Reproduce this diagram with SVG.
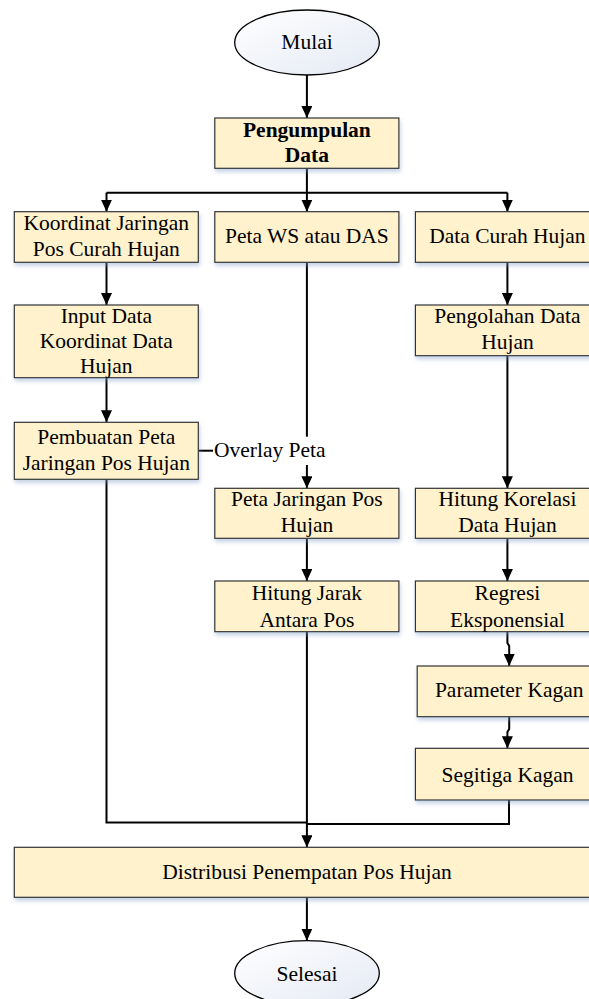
<svg xmlns="http://www.w3.org/2000/svg" width="589" height="999" viewBox="0 0 589 999">
<style>
.box{fill:#FFF2CC;stroke:#333333;stroke-width:1.2;filter:url(#sh)}
.term{fill:url(#eg);stroke:#000;stroke-width:1.3}
.t{font-family:"Liberation Serif","Times New Roman",serif;font-size:21.5px;fill:#000;text-anchor:middle}
.b{font-weight:bold}
.c{fill:none;stroke:#000;stroke-width:2}
.a{marker-end:url(#ah)}
</style>
<defs>
<marker id="ah" viewBox="0 0 12 12" markerWidth="12" markerHeight="11" refX="12" refY="6" orient="auto" markerUnits="userSpaceOnUse" preserveAspectRatio="none">
<path d="M0,0 L12,6 L0,12 z" fill="#000"/>
</marker>
<filter id="sh" x="-10%" y="-20%" width="120%" height="150%">
<feDropShadow dx="1" dy="3" stdDeviation="2" flood-color="#7f9cc8" flood-opacity="0.45"/>
</filter>
<linearGradient id="eg" x1="0" y1="0" x2="1" y2="1">
<stop offset="0" stop-color="#ffffff"/>
<stop offset="1" stop-color="#e4e9f4"/>
</linearGradient>
</defs>
<rect width="589" height="999" fill="#fff"/>
<g id="connectors">
<path class="c a" d="M306.9 75 V118"/>
<path class="c a" d="M306.9 168.3 V211.7"/>
<path class="c" d="M106.5 192.7 H507.4"/>
<path class="c a" d="M106.5 192.7 V211.7"/>
<path class="c a" d="M507.4 192.7 V211.7"/>
<path class="c a" d="M106.5 262.3 V305"/>
<path class="c a" d="M106.5 377.7 V422.3"/>
<path class="c" d="M198.3 450.7 H213"/>
<path class="c" d="M306.9 262.3 V436.7"/>
<path class="c a" d="M306.9 465 V488.3"/>
<path class="c a" d="M507.4 262.3 V305"/>
<path class="c a" d="M507.4 355.7 V488.3"/>
<path class="c a" d="M306.9 538.3 V581"/>
<path class="c a" d="M507.4 538.3 V581"/>
<path class="c a" d="M507.4 631.7 V643 L509.2 646 V666"/>
<path class="c a" d="M509.2 716.7 V729 L507.4 732 V748.3"/>
<path class="c" d="M106.5 479.3 V822.5 H306.9"/>
<path class="c" d="M509 800 V824 H306.9"/>
<path class="c a" d="M306.9 631.7 V847.3"/>
<path class="c a" d="M306.9 897.3 V940.7"/>
<text class="t" x="214" y="456.7" style="text-anchor:start">Overlay Peta</text>
</g>
<g id="mulai">
<ellipse class="term" cx="307" cy="42.5" rx="72.3" ry="32.5"/>
<text class="t" x="307" y="48.5">Mulai</text>
</g>
<g id="pengumpulan">
<rect class="box" x="214.8" y="118" width="184.1" height="50.3"/>
<text class="t b" x="306.9" y="136.7">Pengumpulan</text>
<text class="t b" x="306.9" y="162.3">Data</text>
</g>
<g id="koordinat">
<rect class="box" x="14.3" y="211.7" width="184" height="50.6"/>
<text class="t" x="106.3" y="230">Koordinat Jaringan</text>
<text class="t" x="106.3" y="255.5">Pos Curah Hujan</text>
</g>
<g id="petaws">
<rect class="box" x="214.8" y="211.7" width="184.1" height="50.6"/>
<text class="t" x="306.9" y="243.3">Peta WS atau DAS</text>
</g>
<g id="datacurah">
<rect class="box" x="415.4" y="211.7" width="184.1" height="50.6"/>
<text class="t" x="507.4" y="243.3">Data Curah Hujan</text>
</g>
<g id="input">
<rect class="box" x="14.3" y="305" width="184" height="72.7"/>
<text class="t" x="106.3" y="322.7">Input Data</text>
<text class="t" x="106.3" y="347.7">Koordinat Data</text>
<text class="t" x="106.3" y="373">Hujan</text>
</g>
<g id="pengolahan">
<rect class="box" x="415.4" y="305" width="184.1" height="50.7"/>
<text class="t" x="507.4" y="322.7">Pengolahan Data</text>
<text class="t" x="507.4" y="349">Hujan</text>
</g>
<g id="pembuatan">
<rect class="box" x="14.3" y="422.3" width="184" height="57"/>
<text class="t" x="106.3" y="444">Pembuatan Peta</text>
<text class="t" x="106.3" y="470">Jaringan Pos Hujan</text>
</g>
<g id="petajaringan">
<rect class="box" x="214.8" y="488.3" width="184.1" height="50"/>
<text class="t" x="306.9" y="506">Peta Jaringan Pos</text>
<text class="t" x="306.9" y="531.7">Hujan</text>
</g>
<g id="korelasi">
<rect class="box" x="415.4" y="488.3" width="184.1" height="50"/>
<text class="t" x="507.4" y="506">Hitung Korelasi</text>
<text class="t" x="507.4" y="531.7">Data Hujan</text>
</g>
<g id="jarak">
<rect class="box" x="214.8" y="581" width="184.1" height="50.7"/>
<text class="t" x="306.9" y="600">Hitung Jarak</text>
<text class="t" x="306.9" y="626.7">Antara Pos</text>
</g>
<g id="regresi">
<rect class="box" x="415.4" y="581" width="184.1" height="50.7"/>
<text class="t" x="507.4" y="600">Regresi</text>
<text class="t" x="507.4" y="626.7">Eksponensial</text>
</g>
<g id="parameter">
<rect class="box" x="417.2" y="666" width="184.1" height="50.7"/>
<text class="t" x="509.2" y="697.3">Parameter Kagan</text>
</g>
<g id="segitiga">
<rect class="box" x="415.4" y="748.3" width="184.1" height="51.7"/>
<text class="t" x="507.6" y="781.7">Segitiga Kagan</text>
</g>
<g id="distribusi">
<rect class="box" x="14.3" y="847.3" width="585.4" height="50"/>
<text class="t" x="307" y="879.3">Distribusi Penempatan Pos Hujan</text>
</g>
<g id="selesai">
<ellipse class="term" cx="307" cy="973.2" rx="72.3" ry="32.5"/>
<text class="t" x="307" y="981">Selesai</text>
</g>
</svg>
